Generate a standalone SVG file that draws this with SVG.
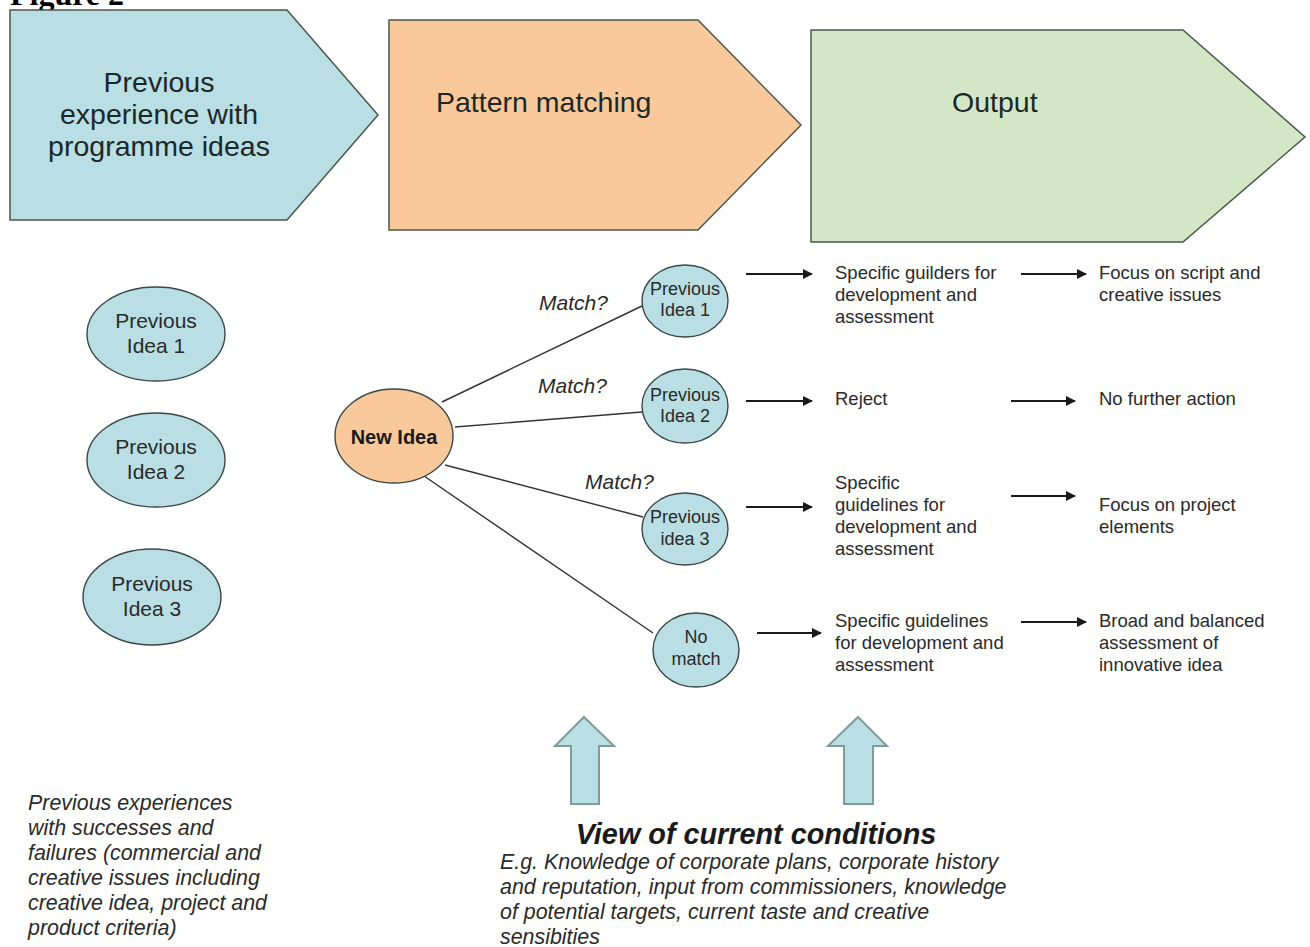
<svg xmlns="http://www.w3.org/2000/svg" width="1310" height="947" viewBox="0 0 1310 947">
<defs>
<marker id="ah" viewBox="0 0 10 10" refX="9" refY="5" markerWidth="11" markerHeight="10" markerUnits="userSpaceOnUse" orient="auto">
<path d="M0,0 L10,5 L0,10 z" fill="#1a1a1a"/>
</marker>
<style>
text{font-family:"Liberation Sans",Arial,sans-serif;fill:#2a2a2a}
.title{font-size:28.5px;fill:#1c2828}
.stage{stroke:#4a574a;stroke-width:1.5}
.blue{fill:#b9dee3}
.orange{fill:#f9c99b}
.green{fill:#d3e7c6}
.ell{stroke:#3a4848;stroke-width:1.4}
.big{font-size:21px;text-anchor:middle}
.small{font-size:18px;text-anchor:middle}
.lbl{font-size:21px;font-style:italic}
.out{font-size:18.5px}
.conn{stroke:#333;stroke-width:1.4;fill:none}
.arr{stroke:#1a1a1a;stroke-width:2;fill:none;marker-end:url(#ah)}
.up{fill:#b9dee3;stroke:#7f9c9c;stroke-width:2}
.it{font-size:21.4px;font-style:italic}
</style>
</defs>
<rect width="1310" height="947" fill="#ffffff"/>
<text x="10" y="5" style="font-family:'Liberation Serif',serif;font-weight:bold;font-size:32px;fill:#000">Figure 2</text>

<g id="stage-previous">
<polygon class="stage blue" points="10,10 287,10 378,115 287,220 10,220"/>
<text class="title" x="159" y="92" text-anchor="middle">Previous</text>
<text class="title" x="159" y="124" text-anchor="middle">experience with</text>
<text class="title" x="159" y="156" text-anchor="middle">programme ideas</text>
</g>
<g id="stage-pattern">
<polygon class="stage orange" points="389,20 698,20 801,125 698,230 389,230"/>
<text class="title" x="436" y="112">Pattern matching</text>
</g>
<g id="stage-output">
<polygon class="stage green" points="811,30 1183,30 1305,137 1183,242 811,242"/>
<text class="title" x="952" y="112">Output</text>
</g>

<g id="left-idea1">
<ellipse class="ell blue" cx="156" cy="334" rx="69" ry="47"/>
<text class="big" x="156" y="328">Previous</text>
<text class="big" x="156" y="353">Idea 1</text>
</g>
<g id="left-idea2">
<ellipse class="ell blue" cx="156" cy="460" rx="69" ry="47"/>
<text class="big" x="156" y="454">Previous</text>
<text class="big" x="156" y="479">Idea 2</text>
</g>
<g id="left-idea3">
<ellipse class="ell blue" cx="152" cy="597" rx="69" ry="48"/>
<text class="big" x="152" y="591">Previous</text>
<text class="big" x="152" y="616">Idea 3</text>
</g>

<g id="connectors">
<line class="conn" x1="442" y1="402" x2="642" y2="306"/>
<line class="conn" x1="455" y1="427" x2="642" y2="412"/>
<line class="conn" x1="445" y1="465" x2="643" y2="517"/>
<line class="conn" x1="424" y1="476" x2="653" y2="633"/>
<line class="arr" x1="746" y1="274" x2="812" y2="274"/>
<line class="arr" x1="1021" y1="274" x2="1086" y2="274"/>
<line class="arr" x1="746" y1="401" x2="812" y2="401"/>
<line class="arr" x1="1011" y1="401" x2="1075" y2="401"/>
<line class="arr" x1="746" y1="507" x2="812" y2="507"/>
<line class="arr" x1="1011" y1="496" x2="1075" y2="496"/>
<line class="arr" x1="757" y1="633" x2="821" y2="633"/>
<line class="arr" x1="1021" y1="622" x2="1086" y2="622"/>
</g>

<g id="match-labels">
<text class="lbl" x="539" y="310">Match?</text>
<text class="lbl" x="538" y="393">Match?</text>
<text class="lbl" x="585" y="489">Match?</text>
</g>

<g id="new-idea">
<ellipse class="ell orange" cx="394" cy="436" rx="59" ry="47"/>
<text x="394" y="444" text-anchor="middle" style="font-size:20px;font-weight:bold;fill:#1a1a1a">New Idea</text>
</g>

<g id="right-idea1">
<ellipse class="ell blue" cx="685" cy="301" rx="43" ry="36"/>
<text class="small" x="685" y="295">Previous</text>
<text class="small" x="685" y="316">Idea 1</text>
</g>
<g id="right-idea2">
<ellipse class="ell blue" cx="685" cy="406" rx="43" ry="37"/>
<text class="small" x="685" y="401">Previous</text>
<text class="small" x="685" y="422">Idea 2</text>
</g>
<g id="right-idea3">
<ellipse class="ell blue" cx="685" cy="529" rx="43" ry="36"/>
<text class="small" x="685" y="523">Previous</text>
<text class="small" x="685" y="545">idea 3</text>
</g>
<g id="no-match">
<ellipse class="ell blue" cx="696" cy="650" rx="43" ry="37"/>
<text class="small" x="696" y="643">No</text>
<text class="small" x="696" y="665">match</text>
</g>

<g id="out1a">
<text class="out" x="835" y="279">Specific guilders for</text>
<text class="out" x="835" y="301">development and</text>
<text class="out" x="835" y="323">assessment</text>
</g>
<g id="out1b">
<text class="out" x="1099" y="279">Focus on script and</text>
<text class="out" x="1099" y="301">creative issues</text>
</g>
<g id="out2a">
<text class="out" x="835" y="405">Reject</text>
</g>
<g id="out2b">
<text class="out" x="1099" y="405">No further action</text>
</g>
<g id="out3a">
<text class="out" x="835" y="489">Specific</text>
<text class="out" x="835" y="511">guidelines for</text>
<text class="out" x="835" y="533">development and</text>
<text class="out" x="835" y="555">assessment</text>
</g>
<g id="out3b">
<text class="out" x="1099" y="511">Focus on project</text>
<text class="out" x="1099" y="533">elements</text>
</g>
<g id="out4a">
<text class="out" x="835" y="627">Specific guidelines</text>
<text class="out" x="835" y="649">for development and</text>
<text class="out" x="835" y="671">assessment</text>
</g>
<g id="out4b">
<text class="out" x="1099" y="627">Broad and balanced</text>
<text class="out" x="1099" y="649">assessment of</text>
<text class="out" x="1099" y="671">innovative idea</text>
</g>

<g id="up-arrows">
<polygon class="up" points="584,717 614,746 599,746 599,804 571,804 571,746 555,746"/>
<polygon class="up" points="858,717 887,746 873,746 873,804 844,804 844,746 828,746"/>
</g>

<g id="current-conditions">
<text x="756" y="844" text-anchor="middle" style="font-size:28.8px;font-weight:bold;font-style:italic;fill:#1a1a1a">View of current conditions</text>
<text class="it" x="500" y="869">E.g. Knowledge of corporate plans, corporate history</text>
<text class="it" x="500" y="894">and reputation, input from commissioners, knowledge</text>
<text class="it" x="500" y="919">of potential targets, current taste and creative</text>
<text class="it" x="500" y="944">sensibities</text>
</g>

<g id="previous-experiences">
<text class="it" x="28" y="810">Previous experiences</text>
<text class="it" x="28" y="835">with successes and</text>
<text class="it" x="28" y="860">failures (commercial and</text>
<text class="it" x="28" y="885">creative issues including</text>
<text class="it" x="28" y="910">creative idea, project and</text>
<text class="it" x="28" y="935">product criteria)</text>
</g>
</svg>
